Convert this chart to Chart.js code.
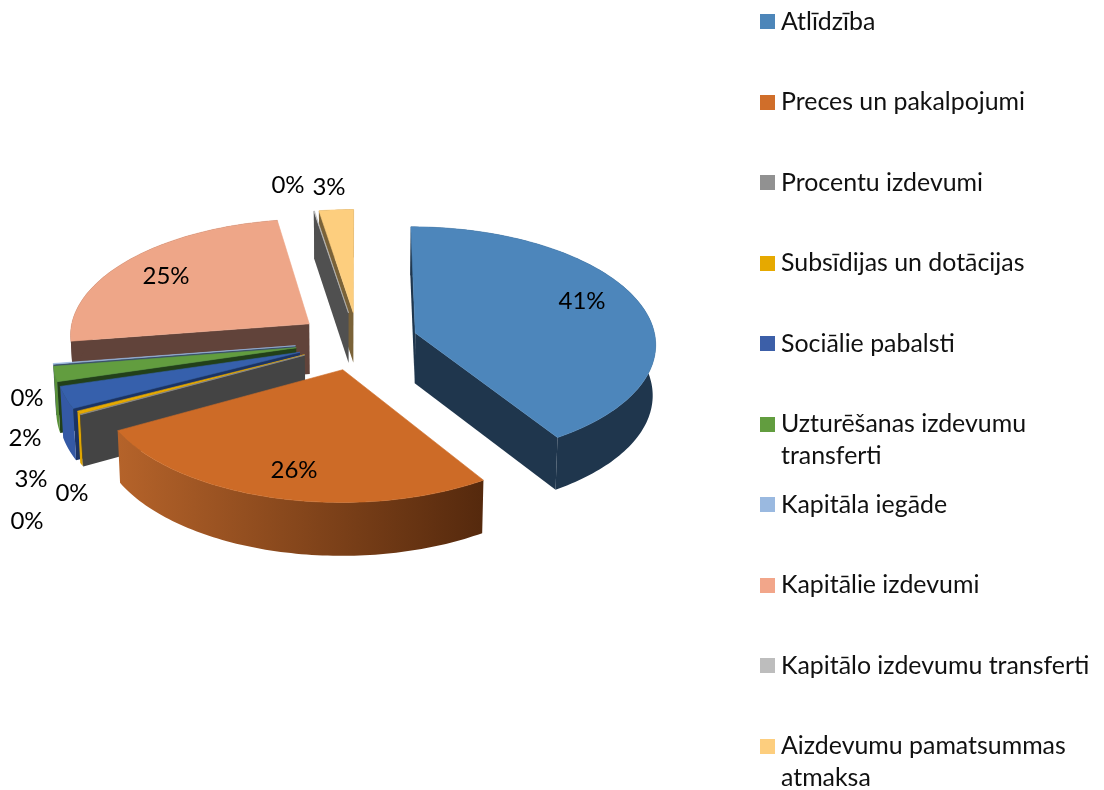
<!DOCTYPE html>
<html><head><meta charset="utf-8">
<style>html,body{margin:0;padding:0;background:#fff}canvas{display:block}</style>
<script src="https://cdn.jsdelivr.net/npm/chart.js@4/dist/chart.umd.min.js"></script>
</head><body>
<canvas id="c" width="1104" height="790"></canvas>
<script>
const categories = ["Atlīdzība","Preces un pakalpojumi","Procentu izdevumi","Subsīdijas un dotācijas","Sociālie pabalsti","Uzturēšanas izdevumu transferti","Kapitāla iegāde","Kapitālie izdevumi","Kapitālo izdevumu transferti","Aizdevumu pamatsummas atmaksa"];
const shares = [41, 26, 0.05, 0.4, 3, 2.05, 0.1, 24.8, 0.05, 2.55];
const explode = [60, 60, 60, 60, 62, 63, 63, 61, 60, 60];
const legendLines = [["Atlīdzība"],["Preces un pakalpojumi"],["Procentu izdevumi"],["Subsīdijas un dotācijas"],["Sociālie pabalsti"],["Uzturēšanas izdevumu","transferti"],["Kapitāla iegāde"],["Kapitālie izdevumi"],["Kapitālo izdevumu transferti"],["Aizdevumu pamatsummas","atmaksa"]];
const topColors = ["#4d86bb","#cd6b27","#919191","#e6a900","#3660ac","#629d3f","#9ab9e0","#eea688","#bdbdbd","#fdce7e"];
const legendColors = ["#4d86b9","#d06e2a","#919191","#e6a900","#3c5fa8","#629d3f","#9ab9e0","#f2a68a","#bdbdbd","#fdce7e"];
const wallColors = ["#1f364d","#55290d","#444444","#7a5a00","#1b3364","#22401a","#3a5068","#61433a","#505050","#7a6238"];
const rimColors = ["#1f364d",["#b5632a","#55290d"],"#444444","#e0a500","#3459a5","#5a9139","#7a94b5","#61433a","#505050","#7a6238"];
const labelCenters = [[582,301],[294,470],[72,493],[27,521],[31,479],[25,438],[27,398],[166,276],[288,185],[329,187]];

const FONT = 'Lato, "Open Sans", sans-serif';
const VIEW = {q:0.484, b:0.0844, depth:50.5, converge:0.99};
const LEGEND = {boxX:760, textX:781, box:15, firstY:21.5, step:80.55, line:32, size:24.9};

const pie3d = {
  id:'pie3d',
  beforeDatasetDraw(chart,args){
    const ctx = chart.ctx, meta = chart.getDatasetMeta(args.index);
    const arcs = meta.data.map((el,i)=>{
      const mid=(el.startAngle+el.endAngle)/2, d=el.options.offset;
      return {el,i,mid,ox:Math.cos(mid)*d,oy:Math.sin(mid)*d};
    });
    const cx=arcs[0].el.x, cy=arcs[0].el.y, R=arcs[0].el.outerRadius;
    const proj=(X,Y)=>{const w=1/(1-VIEW.b*Y/R);return [cx+X*w,cy+VIEW.q*Y*w,w];};
    const down=(p)=>[cx+(p[0]-cx)*VIEW.converge,p[1]+VIEW.depth*Math.sqrt(p[2]),p[2]];
    const rimPts=(a)=>{
      const n=Math.max(2,Math.ceil((a.el.endAngle-a.el.startAngle)/0.02)), p=[];
      for(let k=0;k<=n;k++){const t=a.el.startAngle+(a.el.endAngle-a.el.startAngle)*k/n;
        p.push(proj(a.ox+Math.cos(t)*R,a.oy+Math.sin(t)*R));}
      return p;
    };
    const fillPoly=(pts,fill,seal)=>{
      ctx.beginPath();pts.forEach((p,k)=>k?ctx.lineTo(p[0],p[1]):ctx.moveTo(p[0],p[1]));ctx.closePath();
      ctx.fillStyle=fill;ctx.fill();
      if(seal){ctx.strokeStyle=fill;ctx.lineWidth=0.6;ctx.stroke();}
    };
    arcs.slice().sort((a,b)=>Math.sin(a.mid)-Math.sin(b.mid)).forEach(a=>{
      const rim=rimPts(a), apex=proj(a.ox,a.oy);
      const first=rim[0], last=rim[rim.length-1];
      if(Math.cos(a.el.startAngle)<0.01) fillPoly([apex,first,down(first),down(apex)],wallColors[a.i],false);
      if(Math.cos(a.el.endAngle)>-0.01) fillPoly([apex,last,down(last),down(apex)],wallColors[a.i],false);
      let rimFill=rimColors[a.i];
      if(Array.isArray(rimFill)){
        const xs=rim.map(p=>p[0]);
        const g=ctx.createLinearGradient(Math.min(...xs),0,Math.max(...xs),0);
        g.addColorStop(0,rimFill[0]);g.addColorStop(1,rimFill[1]);
        rimFill=g;
      }
      fillPoly(rim.concat(rim.slice().reverse().map(down)),rimFill,false);
      fillPoly([apex].concat(rim),topColors[a.i],true);
    });
    return false;
  },
  afterDraw(chart){
    const ctx=chart.ctx;
    ctx.save();
    ctx.fillStyle='#000';ctx.textBaseline='middle';
    ctx.font='24px '+FONT;ctx.textAlign='center';
    shares.forEach((v,i)=>ctx.fillText(Math.round(v)+'%',labelCenters[i][0],labelCenters[i][1]));
    ctx.textAlign='left';ctx.font=LEGEND.size+'px '+FONT;
    legendLines.forEach((lines,i)=>{
      const y=LEGEND.firstY+LEGEND.step*i;
      ctx.fillStyle=legendColors[i];ctx.fillRect(LEGEND.boxX,Math.round(y-LEGEND.box/2),LEGEND.box,LEGEND.box);
      ctx.fillStyle='#111';
      lines.forEach((t,k)=>ctx.fillText(t,LEGEND.textX,y+k*LEGEND.line));
    });
    ctx.restore();
  }
};

new Chart(document.getElementById('c'),{
  type:'pie',
  data:{labels:categories,datasets:[{data:shares,backgroundColor:topColors,borderWidth:0,offset:explode}]},
  options:{
    responsive:false,animation:false,radius:240.5,
    layout:{padding:{left:0,top:0,right:388,bottom:108}},
    plugins:{legend:{display:false},tooltip:{enabled:false},title:{display:false}}
  },
  plugins:[pie3d]
});
</script>
</body></html>
